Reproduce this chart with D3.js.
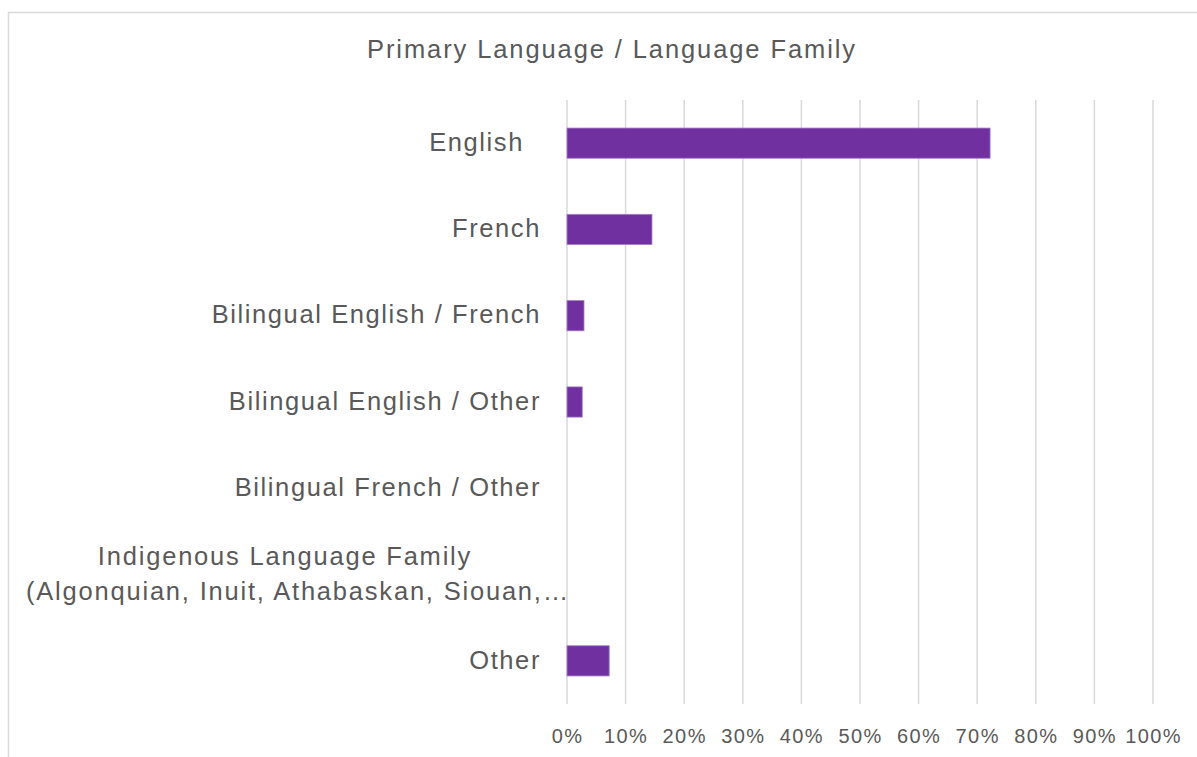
<!DOCTYPE html>
<html>
<head>
<meta charset="utf-8">
<script src="https://cdn.jsdelivr.net/npm/d3@7"></script>
<style>
    html, body { margin: 0; padding: 0; background: #fff; }
    svg text { font-family: "Liberation Sans", Arial, sans-serif; fill: #595959; }
</style>
</head>
<body>
<div id="chart"></div>
<script>
// Chart data
const categories = [
    'English',
    'French',
    'Bilingual English / French',
    'Bilingual English / Other',
    'Bilingual French / Other',
    'Indigenous Language Family|(Algonquian, Inuit, Athabaskan, Siouan,\u2026',
    'Other'
];
const values = [0.722, 0.145, 0.029, 0.026, 0, 0, 0.072];
const tickValues = [0, 0.1, 0.2, 0.3, 0.4, 0.5, 0.6, 0.7, 0.8, 0.9, 1.0];
const title = 'Primary Language / Language Family';

const width = 1197, height = 757;
const margin = {top: 100, right: 44, bottom: 53, left: 567};

const svg = d3.select('#chart')
    .append('svg')
    .attr('width', width)
    .attr('height', height);

// Chart frame
svg.append('rect')
    .attr('x', 8.5)
    .attr('y', 12.5)
    .attr('width', width + 20)
    .attr('height', height + 20)
    .attr('fill', 'none')
    .attr('stroke', '#d9d9d9')
    .attr('stroke-width', 1.5);

svg.append('text')
    .attr('x', 612)
    .attr('y', 58)
    .attr('text-anchor', 'middle')
    .style('font-size', '25.5px')
    .style('letter-spacing', '1.9px')
    .text(title);

const x = d3.scaleLinear()
    .domain([0, 1])
    .range([margin.left, width - margin.right]);

const y = d3.scaleBand()
    .domain(categories)
    .range([margin.top, height - margin.bottom])
    .paddingInner(0.65)
    .paddingOuter(0.325);

// Gridlines
svg.append('g')
    .selectAll('line')
    .data(tickValues)
    .join('line')
    .attr('x1', d => x(d))
    .attr('x2', d => x(d))
    .attr('y1', margin.top)
    .attr('y2', height - margin.bottom)
    .attr('stroke', '#d9d9d9')
    .attr('stroke-width', 1.5);

// X axis labels
const xAxis = svg.append('g')
    .attr('transform', `translate(0,${height - margin.bottom})`)
    .call(d3.axisBottom(x).tickValues(tickValues).tickFormat(d3.format('.0%')).tickSize(0).tickPadding(25));
xAxis.select('.domain').remove();
xAxis.selectAll('text')
    .style('font-size', '20px')
    .style('letter-spacing', '1.4px')
    .style('font-family', '"Liberation Sans", Arial, sans-serif')
    .attr('fill', '#595959');

// Y axis labels
const yLabels = svg.append('g')
    .selectAll('text')
    .data(categories)
    .join('text')
    .style('font-size', '25.5px')
    .style('letter-spacing', '1.6px');

yLabels.each(function (d) {
    const parts = d.split('|');
    const t = d3.select(this);
    const cy = y(d) + y.bandwidth() / 2;
    if (parts.length === 1) {
        t.attr('x', margin.left - 26 - (d === 'English' ? 17 : 0))
            .attr('y', cy)
            .attr('dy', '0.3em')
            .attr('text-anchor', 'end')
            .text(d);
    } else {
        t.attr('text-anchor', 'middle')
            .style('letter-spacing', '1.8px');
        const cx = [285, 298];
        parts.forEach((p, i) => {
            t.append('tspan')
                .attr('x', cx[i])
                .attr('y', cy - 17.5 + i * 35)
                .attr('dy', '0.3em')
                .text(p);
        });
    }
});

// Bars
svg.append('g')
    .selectAll('rect')
    .data(categories.map((c, i) => ({c, v: values[i]})).filter(d => d.v > 0))
    .join('rect')
    .attr('x', x(0))
    .attr('y', d => y(d.c))
    .attr('width', d => x(d.v) - x(0))
    .attr('height', y.bandwidth())
    .attr('fill', '#7030a0')
    .attr('stroke', '#a57ec6')
    .attr('stroke-width', 0.8);
</script>
</body>
</html>
